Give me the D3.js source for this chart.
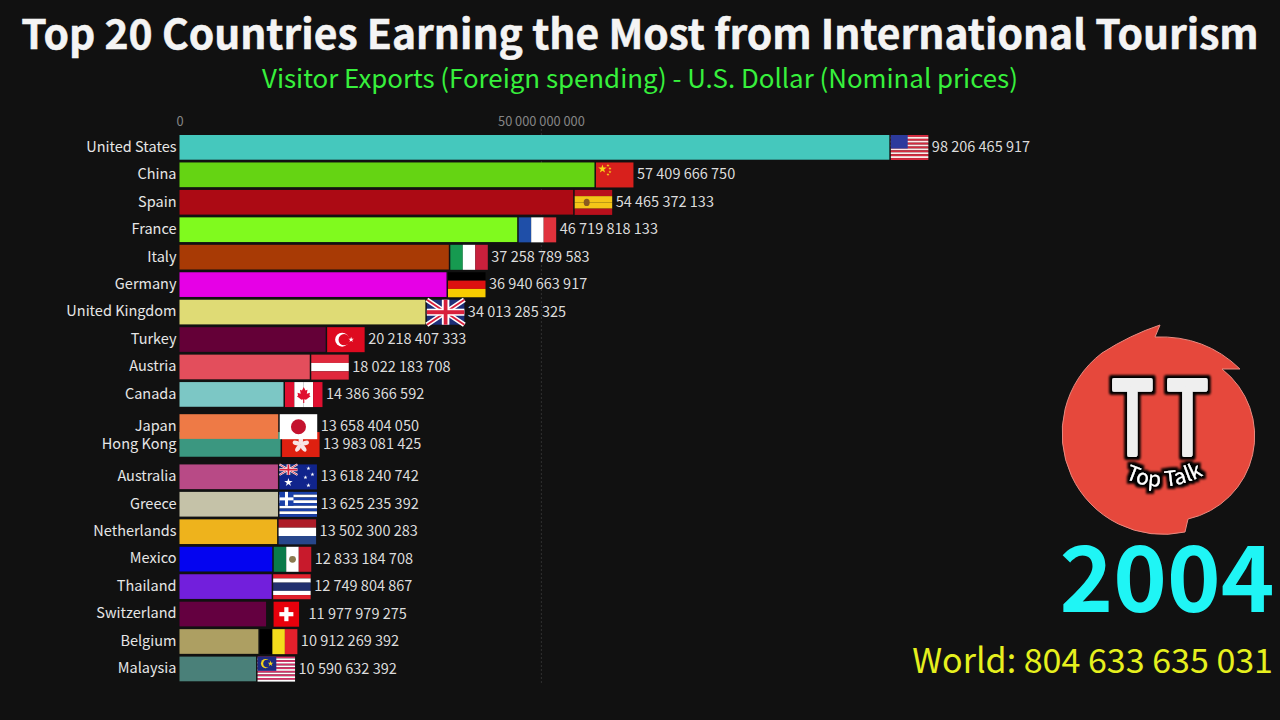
<!DOCTYPE html>
<html>
<head>
<meta charset="utf-8">
<script src="https://cdn.jsdelivr.net/npm/d3@7"></script>
<style>
  html, body { margin: 0; padding: 0; background: #111111; overflow: hidden; }
  text { font-family: "Noto Sans CJK SC", "Noto Sans", sans-serif; }
</style>
</head>
<body>
<div id="chart"></div>
<script>
"use strict";

const countries = ["United States", "China", "Spain", "France", "Italy", "Germany", "United Kingdom", "Turkey", "Austria", "Canada", "Hong Kong", "Japan", "Australia", "Greece", "Netherlands", "Mexico", "Thailand", "Switzerland", "Belgium", "Malaysia"];
const values = [98206465917, 57409666750, 54465372133, 46719818133, 37258789583, 36940663917, 34013285325, 20218407333, 18022183708, 14386366592, 13983081425, 13658404050, 13618240742, 13625235392, 13502300283, 12833184708, 12749804867, 11977979275, 10912269392, 10590632392];
// ranks are fractional because the frame is caught mid swap (Japan / Hong Kong)
const ranks = [0, 1, 2, 3, 4, 5, 6, 7, 8, 9, 10.82, 10.17, 12, 13, 14, 15, 16, 17, 18, 19];
const colors = ["#45c8bd", "#65d413", "#ac0a14", "#80fa1e", "#a83a05", "#e600e6", "#dfdb75", "#640037", "#e34e5c", "#7cc7c5", "#3b9780", "#ee7a46", "#b84a86", "#c5c2a8", "#eeb31c", "#0404f0", "#721fdc", "#640040", "#ad9f62", "#4a8079"];
const tickValues = [0, 50000000000];

const titleText = "Top 20 Countries Earning the Most from International Tourism";
const subtitleText = "Visitor Exports (Foreign spending) - U.S. Dollar (Nominal prices)";
const yearText = "2004";
const worldText = "World: 804 633 635 031";

const width = 1280, height = 720;
const flagW = 37.5, flagH = 25;

const x = d3.scaleLinear().domain([0, 50000000000]).range([179.5, 540.9]);
const y = d3.scaleLinear().domain([0, 19]).range([135, 656.6]);
const barH = 24.7;

const fmt = d3.formatLocale({ decimal: ".", thousands: " ", grouping: [3], currency: ["", ""] }).format(",d");

const svg = d3.select("#chart").append("svg")
  .attr("width", width)
  .attr("height", height)
  .style("display", "block")
  .style("background", "#111111");

// black rounded outline for the logo lettering
const outline = svg.append("defs").append("filter").attr("id", "outline")
  .attr("x", "-20%").attr("y", "-20%").attr("width", "140%").attr("height", "140%");
outline.append("feMorphology").attr("in", "SourceAlpha").attr("operator", "dilate").attr("radius", 2.8).attr("result", "fat");
outline.append("feGaussianBlur").attr("in", "fat").attr("stdDeviation", 1).attr("result", "soft");
const merge = outline.append("feMerge");
merge.append("feMergeNode").attr("in", "soft");
merge.append("feMergeNode").attr("in", "SourceGraphic");

svg.append("text").attr("x", 640).attr("y", 49)
  .attr("text-anchor", "middle").attr("font-size", 40.8).attr("font-weight", 700)
  .attr("fill", "#f4f4f4").attr("stroke", "#f4f4f4").attr("stroke-width", 0.5).text(titleText);

svg.append("text").attr("x", 640).attr("y", 88)
  .attr("text-anchor", "middle").attr("font-size", 25.85)
  .attr("fill", "#37f03c").text(subtitleText);

// axis
const axis = svg.append("g")
  .attr("transform", "translate(0,129)")
  .call(d3.axisTop(x).tickValues(tickValues).tickFormat(fmt).tickSize(0));
axis.select(".domain").remove();
axis.selectAll("text").attr("fill", "#858585").attr("font-size", 12.8)
  .style("font-family", "\"Noto Sans CJK SC\", sans-serif");
axis.selectAll(".tick").filter(d => d > 0).append("line")
  .attr("y1", 0).attr("y2", 554)
  .attr("stroke", "#2f2f2f").attr("stroke-width", 1).attr("stroke-dasharray", "2,2");

// flags, each painted in a flagW x flagH box
function rect(g, px, py, w, h, fill) {
  g.append("rect").attr("x", px).attr("y", py).attr("width", w).attr("height", h).attr("fill", fill);
}
function star(g, px, py, size, fill) {
  g.append("path").attr("d", d3.symbol(d3.symbolStar, size)())
    .attr("transform", `translate(${px},${py})`).attr("fill", fill);
}
function vStripes(g, cols) {
  cols.forEach((c, i) => rect(g, i * flagW / cols.length, 0, flagW / cols.length, flagH, c));
}
function hStripes(g, cols) {
  cols.forEach((c, i) => rect(g, 0, i * flagH / cols.length, flagW, flagH / cols.length, c));
}
function unionJack(g, w, h) {
  rect(g, 0, 0, w, h, "#1d2f78");
  const line = (x1, y1, x2, y2, c, sw) => g.append("line").attr("x1", x1).attr("y1", y1).attr("x2", x2).attr("y2", y2).attr("stroke", c).attr("stroke-width", sw);
  line(0, 0, w, h, "#fff", h * 0.2); line(w, 0, 0, h, "#fff", h * 0.2);
  line(0, 0, w, h, "#d8203c", h * 0.08); line(w, 0, 0, h, "#d8203c", h * 0.08);
  rect(g, 0, h * 0.36, w, h * 0.28, "#fff"); rect(g, w * 0.4, 0, w * 0.2, h, "#fff");
  rect(g, 0, h * 0.42, w, h * 0.16, "#d8203c"); rect(g, w * 0.45, 0, w * 0.1, h, "#d8203c");
}

const flags = {
  "United States": g => {
    d3.range(13).forEach(i => rect(g, 0, i * flagH / 13, flagW, flagH / 13, i % 2 ? "#ffe8e8" : "#d8283e"));
    rect(g, 0, 0, flagW * 0.45, flagH * 0.54, "#2c3a9c");
  },
  "China": g => {
    rect(g, 0, 0, flagW, flagH, "#d8201c");
    star(g, 6.5, 6.5, 22, "#f8d818");
    [[12, 3], [14, 6], [14, 9.5], [12, 12]].forEach(p => star(g, p[0], p[1], 3, "#f8d818"));
  },
  "Spain": g => {
    hStripes(g, ["#b8101c", "#f4c518", "#f4c518", "#b8101c"]);
    g.append("ellipse").attr("cx", 12).attr("cy", 12.5).attr("rx", 3).attr("ry", 3.6).attr("fill", "#8a5a20");
  },
  "France": g => vStripes(g, ["#1f4fa8", "#ffffff", "#e0323c"]),
  "Italy": g => vStripes(g, ["#169a50", "#ffffff", "#c8203c"]),
  "Germany": g => hStripes(g, ["#000000", "#dd1010", "#f8cc00"]),
  "United Kingdom": g => unionJack(g, flagW, flagH),
  "Turkey": g => {
    rect(g, 0, 0, flagW, flagH, "#de0a20");
    g.append("circle").attr("cx", 15).attr("cy", 12.5).attr("r", 7).attr("fill", "#fff");
    g.append("circle").attr("cx", 17).attr("cy", 12.5).attr("r", 5.6).attr("fill", "#de0a20");
    star(g, 24, 12.5, 9, "#fff");
  },
  "Austria": g => hStripes(g, ["#e0283c", "#ffffff", "#e0283c"]),
  "Canada": g => {
    vStripes(g, ["#e01030", "#ffffff", "#ffffff", "#e01030"]);
    g.append("path").attr("d", "M18.75,5 L20.5,8.5 L22.5,7.6 L21.8,11.8 L25,10.8 L24.4,13.4 L25.6,14.2 L21,17.6 L19.3,17.2 L19.3,21 L18.2,21 L18.2,17.2 L16.5,17.6 L11.9,14.2 L13.1,13.4 L12.5,10.8 L15.7,11.8 L15,7.6 L17,8.5 Z").attr("fill", "#e01030");
  },
  "Hong Kong": g => {
    rect(g, 0, 0, flagW, flagH, "#de2010");
    d3.range(5).forEach(i => g.append("ellipse")
      .attr("cx", flagW / 2).attr("cy", 8.2).attr("rx", 2.2).attr("ry", 4.2).attr("fill", "#f8e4e4")
      .attr("transform", `rotate(${i * 72},${flagW / 2},12.5)`));
  },
  "Japan": g => {
    rect(g, 0, 0, flagW, flagH, "#ffffff");
    g.append("circle").attr("cx", flagW / 2).attr("cy", flagH / 2).attr("r", 7.5).attr("fill", "#c4122e");
  },
  "Australia": g => {
    rect(g, 0, 0, flagW, flagH, "#10248c");
    unionJack(g, flagW * 0.48, flagH * 0.42);
    [[9, 18, 22], [29, 4, 5], [33, 10, 5], [26, 13, 5], [29, 21, 6]].forEach(s => star(g, s[0], s[1], s[2], "#fff"));
  },
  "Greece": g => {
    d3.range(9).forEach(i => rect(g, 0, i * flagH / 9, flagW, flagH / 9, i % 2 ? "#fff" : "#1a40a8"));
    rect(g, 0, 0, 14, flagH * 5 / 9, "#1a40a8");
    rect(g, 5.5, 0, 3, flagH * 5 / 9, "#fff");
    rect(g, 0, 5.5, 14, 3, "#fff");
  },
  "Netherlands": g => hStripes(g, ["#ae1c28", "#ffffff", "#27468b"]),
  "Mexico": g => {
    vStripes(g, ["#0a7a4a", "#ffffff", "#c81a2c"]);
    g.append("circle").attr("cx", flagW / 2).attr("cy", flagH / 2).attr("r", 3.4).attr("fill", "#8a7a50");
  },
  "Thailand": g => {
    [["#e0202c", 0, 4.2], ["#fff", 4.2, 4.2], ["#22306e", 8.4, 8.2], ["#fff", 16.6, 4.2], ["#e0202c", 20.8, 4.2]]
      .forEach(s => rect(g, 0, s[1], flagW, s[2], s[0]));
  },
  "Switzerland": g => {
    rect(g, 6, 0, 25.5, flagH, "#e8000c");
    rect(g, 16.7, 5.5, 4.2, 14, "#fff");
    rect(g, 11.8, 10.4, 14, 4.2, "#fff");
  },
  "Belgium": g => vStripes(g, ["#000000", "#f4dc1c", "#e4202c"]),
  "Malaysia": g => {
    d3.range(14).forEach(i => rect(g, 0, i * flagH / 14, flagW, flagH / 14, i % 2 ? "#fff" : "#d83068"));
    rect(g, 0, 0, flagW * 0.5, flagH * 0.57, "#1c2a80");
    g.append("circle").attr("cx", 8).attr("cy", 7).attr("r", 4.6).attr("fill", "#f4d41c");
    g.append("circle").attr("cx", 9.5).attr("cy", 7).attr("r", 3.8).attr("fill", "#1c2a80");
    star(g, 13, 7, 10, "#f4d41c");
  }
};

// bars, hong kong goes first so japan sits over it
const rows = svg.selectAll("g.row").data(countries).enter().append("g").attr("class", "row");

rows.append("rect")
  .attr("x", x(0))
  .attr("y", (d, i) => y(ranks[i]))
  .attr("width", (d, i) => x(values[i]) - x(0))
  .attr("height", barH)
  .attr("fill", (d, i) => colors[i]);

rows.append("g")
  .attr("transform", (d, i) => `translate(${x(values[i]) + 1.5},${y(ranks[i])})`)
  .each(function(d) { flags[d](d3.select(this)); });

rows.append("text")
  .attr("x", x(0) - 3)
  .attr("y", (d, i) => y(ranks[i]) + barH / 2)
  .attr("dy", "0.3em")
  .attr("text-anchor", "end")
  .attr("font-size", 14.5)
  .attr("fill", "#e6e6e6")
  .text(d => d);

rows.append("text")
  .attr("x", (d, i) => x(values[i]) + 1.5 + flagW + 3.5)
  .attr("y", (d, i) => y(ranks[i]) + barH / 2)
  .attr("dy", "0.32em")
  .attr("font-size", 14.5)
  .attr("fill", "#dcdcdc")
  .text((d, i) => fmt(values[i]));

// logo
const logo = svg.append("g");
logo.append("path")
  .attr("d", "M1160,325 L1155,337 Q1205,335 1240,369 L1222,369 A85,85 0 0 1 1188,519 L1185,532 A101,101 0 0 1 1102,353 Q1130,335 1160,325 Z")
  .attr("fill", "#e6483c").attr("stroke", "#e88a80").attr("stroke-width", 1);
logo.append("g").attr("filter", "url(#outline)")
  .append("text")
  .attr("transform", "translate(1167,454) scale(0.68,1)")
  .attr("text-anchor", "middle")
  .attr("font-size", 100).attr("font-weight", 400)
  .attr("letter-spacing", 21)
  .attr("fill", "#efefef").attr("stroke", "#efefef").attr("stroke-width", 6)
  .attr("stroke-linejoin", "round")
  .text("TT");
logo.append("path").attr("id", "talkArc").attr("fill", "none")
  .attr("d", "M1116,474 Q1164,501 1212,470");
logo.append("text")
  .attr("font-size", 21)
  .attr("fill", "#fff")
  .attr("filter", "url(#outline)")
  .append("textPath").attr("href", "#talkArc")
  .attr("startOffset", "50%").attr("text-anchor", "middle")
  .text("Top Talk");

svg.append("text").attr("x", 1167).attr("y", 612)
  .attr("text-anchor", "middle").attr("font-size", 91).attr("font-weight", 700)
  .attr("fill", "#1ff5f5").text(yearText);

svg.append("text").attr("x", 1273).attr("y", 673)
  .attr("text-anchor", "end").attr("font-size", 34)
  .attr("fill", "#e6f01e").text(worldText);
</script>
</body>
</html>
